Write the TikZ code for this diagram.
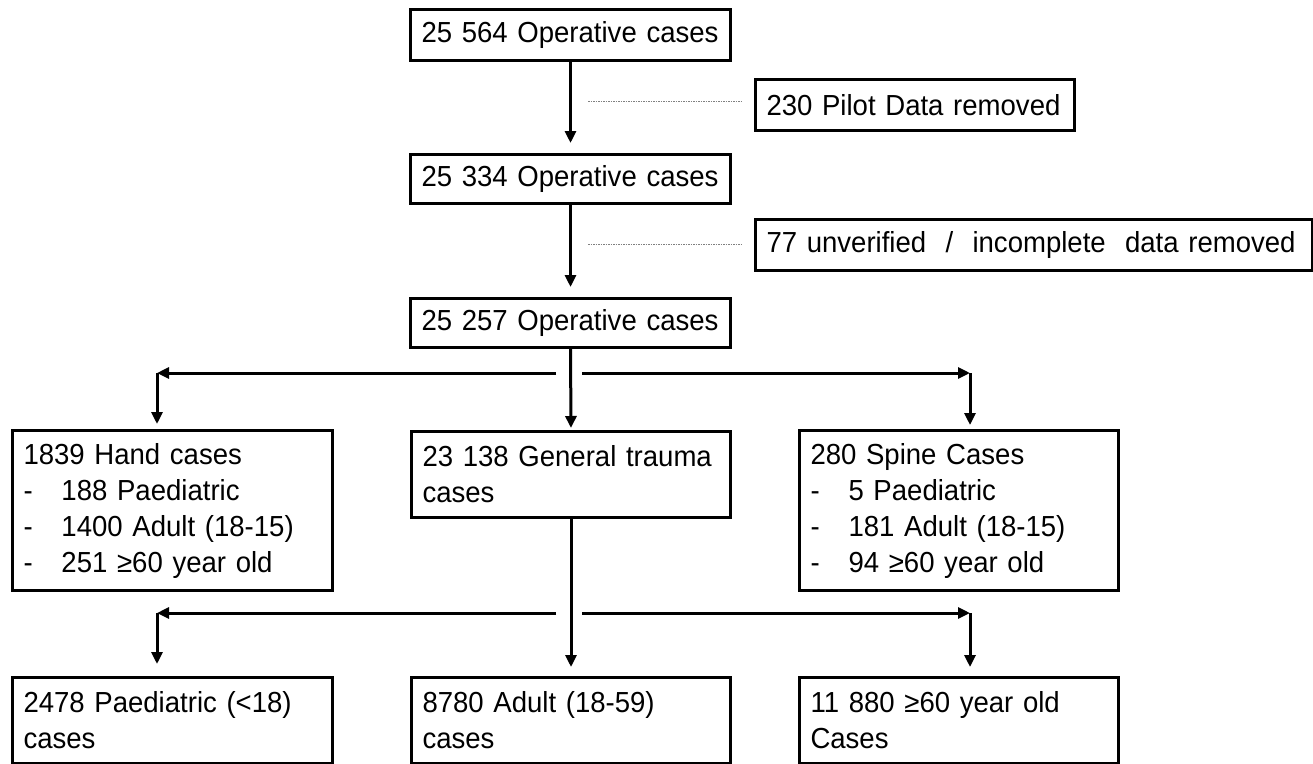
\documentclass[tikz,border=0pt]{standalone}
\usepackage{fontspec}
\setmainfont{Liberation Sans}[FakeStretch=0.95]
\usetikzlibrary{arrows.meta}
\newcommand{\fs}{\fontsize{29}{36}\selectfont}
\newcommand{\dl}[1]{\makebox[38pt][l]{-}#1}
\begin{document}
\begin{tikzpicture}[x=1pt,y=-1pt,
  box/.style={draw, line width=3pt, anchor=north west, inner xsep=11pt, inner ysep=0pt,
    text width=298pt, align=left, font=\fs, minimum width=320pt},
  arr/.style={line width=3pt, -{Triangle[length=12pt,width=11pt]}},
  dots/.style={draw=gray, line width=0.9pt, dash pattern=on 1.6pt off 0.9pt}]
\useasboundingbox (0,0) rectangle (1313,763);
% top chain
\node[box, minimum height=51pt] (b1) at (409,8) {25 564 Operative cases};
\node[box, minimum height=49pt] (b2) at (409,153) {25 334 Operative cases};
\node[box, minimum height=49pt] (b3) at (409,297) {25 257 Operative cases};
\node[box, minimum height=51pt, text width=297pt, minimum width=319pt] (pilot) at (754,78) {230 Pilot Data removed};
\node[box, minimum height=51pt, text width=535pt, minimum width=557pt] (unver) at (754,218) {77 unverified \ / \ incomplete \ data removed};
% second row
\node[box, minimum height=160pt] (hand) at (11,429) {1839 Hand cases\\ \dl{188 Paediatric}\\ \dl{1400 Adult (18-15)}\\ \dl{251 ≥60 year old}};
\node[box, minimum height=86pt, text width=297pt, minimum width=319pt] (gen) at (410,430) {23 138 General trauma\\ cases};
\node[box, minimum height=160pt, text width=297pt, minimum width=319pt] (spine) at (798,429) {280 Spine Cases\\ \dl{5 Paediatric}\\ \dl{181 Adult (18-15)}\\ \dl{94 ≥60 year old}};
% third row
\node[box, minimum height=86pt] (paed) at (11,676) {2478 Paediatric (<18)\\ cases};
\node[box, minimum height=86pt, text width=297pt, minimum width=319pt] (adult) at (410,676) {8780 Adult (18-59)\\ cases};
\node[box, minimum height=86pt, text width=297pt, minimum width=319pt] (old) at (798,676) {11 880 ≥60 year old\\ Cases};
% main arrows
\draw[arr, shorten >=10pt] (b1.south) -- (b2.north);
\draw[arr, shorten >=10pt] (b2.south) -- (b3.north);
\draw[arr, shorten >=2pt] (b3.south) -- (gen.north);
\draw[arr, shorten >=9pt] (gen.south) -- (adult.north);
% exclusions
\coordinate (d1) at (588,101);
\coordinate (d2) at (588,244);
\draw[dots, shorten >=12pt] (d1) -- (d1 -| pilot.west);
\draw[dots, shorten >=12pt] (d2) -- (d2 -| unver.west);
% first branching
\coordinate (l1s) at (556,373);
\coordinate (l1) at (157,373);
\coordinate (r1s) at (582,373);
\coordinate (r1) at (970,373);
\draw[arr] (l1s) -- (l1);
\draw[arr] (r1s) -- (r1);
\draw[arr, shorten >=5pt] (l1) -- (l1 |- hand.north);
\draw[arr, shorten >=4pt] (r1) -- (r1 |- spine.north);
% second branching
\coordinate (l2s) at (556,613);
\coordinate (l2) at (157,613);
\coordinate (r2s) at (582,613);
\coordinate (r2) at (970,613);
\draw[arr] (l2s) -- (l2);
\draw[arr] (r2s) -- (r2);
\draw[arr, shorten >=12pt] (l2) -- (l2 |- paed.north);
\draw[arr, shorten >=9pt] (r2) -- (r2 |- old.north);
\end{tikzpicture}
\end{document}
